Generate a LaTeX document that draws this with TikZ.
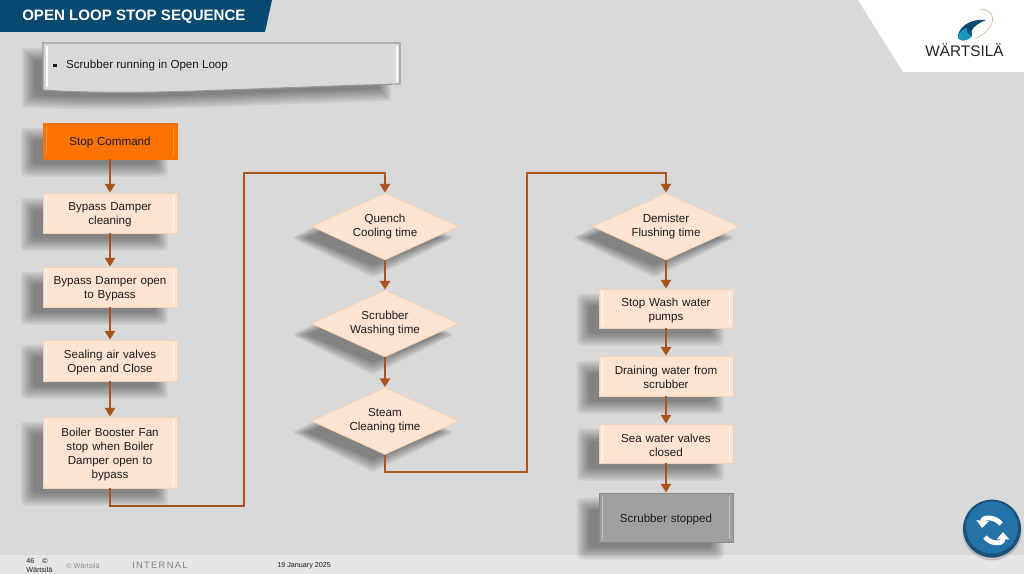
\documentclass[tikz,border=0pt]{standalone}
\usepackage{fontspec}
\setmainfont{Liberation Sans}
\usetikzlibrary{shapes.geometric,arrows.meta}
\pgfdeclarelayer{back}
\pgfdeclarelayer{shade}
\pgfsetlayers{back,shade,main}
\definecolor{bgc}{HTML}{D9D9D9}
\definecolor{footc}{HTML}{E6E6E6}
\definecolor{bannerc}{HTML}{0B4A70}
\definecolor{peach}{HTML}{FFE5D1}
\definecolor{peachedge}{HTML}{F3D3B4}
\definecolor{orangec}{HTML}{FC7303}
\definecolor{greyc}{HTML}{A0A0A0}
\definecolor{wire}{HTML}{A9541C}
\definecolor{inkc}{HTML}{1A1A1A}
\definecolor{btn}{HTML}{2472A8}
\definecolor{btnedge}{HTML}{1B527C}
\newcommand\blurlevels{-4.5,-3,-1.5,0,1.5,3,4.5}
\newcommand\boxshade[1]{\begin{pgfonlayer}{shade}\foreach \g in \blurlevels {
  \fill[shadelayer,rounded corners=3pt]
    ([xshift=\g pt-11.8pt,yshift=-\g pt-8.4pt]#1.north west) rectangle ([xshift=-\g pt-11.8pt,yshift=\g pt-8.4pt]#1.south east);}
  \end{pgfonlayer}}
\newcommand\diashade[1]{\begin{pgfonlayer}{shade}\foreach \g in \blurlevels {
  \fill[shadelayer,rounded corners=2pt]
    ([xshift=-9pt,yshift=-\g pt-8.4pt]#1.north) -- ([xshift=-1.2*\g pt-9pt,yshift=-8.4pt]#1.east)
    -- ([xshift=-9pt,yshift=\g pt-8.4pt]#1.south) -- ([xshift=1.2*\g pt-9pt,yshift=-8.4pt]#1.west) -- cycle;}
  \end{pgfonlayer}}
\tikzset{
  shadelayer/.style={black,opacity=.068},
  bevel/.style={path picture={
    \draw[#1,line width=1pt]
      ([xshift=2.6pt,yshift=-2pt]path picture bounding box.north west) -- ([xshift=2.6pt,yshift=2pt]path picture bounding box.south west)
      ([xshift=-2.6pt,yshift=-2pt]path picture bounding box.north east) -- ([xshift=-2.6pt,yshift=2pt]path picture bounding box.south east);}},
  flowtext/.style={text=inkc,font=\fontsize{8.7}{10.5}\selectfont,execute at begin node={\rule{0pt}{9.0pt}}},
  flowbox/.style={rectangle,draw=peachedge,fill=peach,line width=.6pt,minimum width=134*.75pt,text width=122*.75pt,align=center,
    inner sep=0pt,flowtext,bevel=white!80!peach},
  startbox/.style={flowbox,fill=orangec,draw=orangec,bevel=orangec!80!white},
  endbox/.style={flowbox,fill=greyc,draw=greyc!85!black,bevel=greyc!60!white},
  flowdia/.style={diamond,aspect=2.2,draw=peachedge,fill=peach,line width=.6pt,minimum width=147*.75pt,minimum height=67*.75pt,
    align=center,inner sep=0pt,flowtext,execute at begin node={\rule{0pt}{12pt}}},
  link/.style={draw=wire,line width=2.1pt},
  arrowlink/.style={link,-{Triangle[length=6.5pt,width=7.5pt]}},
  foot/.style={inner sep=0pt,anchor=west,text=inkc,font=\fontsize{5.4}{6.6}\selectfont},
  syncarrow/.style={draw=white,line width=3.6pt,-{Triangle[length=5.5pt,width=9pt]}},
}
\begin{document}
\begin{tikzpicture}[x=.75pt,y=-.75pt]
\useasboundingbox (0,0) rectangle (1024,574);
\begin{pgfonlayer}{back}
\fill[bgc] (0,0) rectangle (1024,574);
\fill[footc] (0,555) rectangle (1024,574);
\end{pgfonlayer}
% banner and logo panel
\fill[bannerc] (0,0) -- (272,0) -- (265,32) -- (0,32) -- cycle;
\node[anchor=west,inner sep=0pt,text=white,font=\fontsize{11.3}{13}\selectfont\bfseries] (title) at (22,16.5) {OPEN LOOP STOP SEQUENCE};
\fill[white] (858,0) -- (1024,0) -- (1024,72) -- (903,72) -- cycle;
% logo
\draw[brown!60!white,line width=.5pt] (980,9) .. controls (993,9) and (995,20) .. (990,27) .. controls (986,32) and (982,36) .. (976,38);
\fill[bannerc] (958,38) .. controls (957,28) and (970,18) .. (986,20) .. controls (976,24) and (969,30) .. (972,36) .. controls (968,41) and (960,42) .. (958,38) -- cycle;
\fill[btn!75!cyan] (958,38) .. controls (958,33) and (962,29) .. (967,28) .. controls (966,32) and (968,34) .. (972,36) .. controls (968,41) and (960,42) .. (958,38) -- cycle;
\node[inner sep=0pt,text=black!85,font=\fontsize{11.5}{13}\selectfont] (logo) at (964.5,50) {WÄRTSILÄ};
% note box
\begin{pgfonlayer}{shade}
\foreach \g in {-6,-4,-2,0,2,4,6} {
  \fill[shadelayer] ({28+\g},{54+\g}) -- ({385-\g},{54+\g}) -- ({385-\g},{95-\g})
    .. controls (305,{97-\g}) and (225,{101-\g}) .. (145,{103-\g}) .. controls (95,{104-\g}) and (55,{103-\g}) .. ({28+\g},{101-\g}) -- cycle;}
\end{pgfonlayer}
\path[draw=black!40,line width=.8pt,fill=bgc] (43,43) -- (400,43) -- (400,84) .. controls (320,86) and (240,90) .. (160,92) .. controls (110,93) and (70,92) .. (43,90) -- cycle;
\draw[white,line width=1pt] (47,46) -- (47,87) (397,46) -- (397,82);
\node[anchor=west,inner sep=0pt,text=inkc,font=\fontsize{8.7}{11}\selectfont] (note) at (53,66) {\rule[1.2pt]{2.6pt}{2.6pt}\hspace{7pt}Scrubber running in Open Loop};
% first column
\node[startbox,minimum height=36*.75pt] (stop) at (110,141) {Stop Command};
\node[flowbox,minimum height=40*.75pt] (clean) at (110,213) {Bypass Damper\\cleaning};
\node[flowbox,minimum height=40*.75pt] (open) at (110,287) {Bypass Damper open\\to Bypass};
\node[flowbox,minimum height=41*.75pt] (seal) at (110,360.5) {Sealing air valves\\Open and Close};
\node[flowbox,minimum height=71*.75pt] (fan) at (110,452.5) {Boiler Booster Fan\\stop when Boiler\\Damper open to\\bypass};
% second column
\node[flowdia] (quench) at (385,226.5) {Quench\\Cooling time};
\node[flowdia] (wash) at (385,323.5) {Scrubber\\Washing time};
\node[flowdia] (steam) at (385,421) {Steam\\Cleaning time};
% third column
\node[flowdia] (demist) at (666,226.5) {Demister\\Flushing time};
\node[flowbox,minimum height=39*.75pt] (pumps) at (666,308.5) {Stop Wash water\\pumps};
\node[flowbox,minimum height=40*.75pt] (drain) at (666,376) {Draining water from\\scrubber};
\node[flowbox,minimum height=39*.75pt] (sea) at (666,443.5) {Sea water valves\\closed};
\node[endbox,minimum height=49*.75pt] (end) at (666,517.5) {Scrubber stopped};
% soft shadows
\boxshade{stop}\boxshade{clean}\boxshade{open}\boxshade{seal}\boxshade{fan}
\boxshade{pumps}\boxshade{drain}\boxshade{sea}\boxshade{end}
\diashade{quench}\diashade{wash}\diashade{steam}\diashade{demist}
% connectors
\draw[arrowlink] (stop) -- (clean);
\draw[arrowlink] (clean) -- (open);
\draw[arrowlink] (open) -- (seal);
\draw[arrowlink] (seal) -- (fan);
\coordinate (c1) at (244,506);
\coordinate (c2) at (244,173);
\coordinate (c3) at (527,472);
\coordinate (c4) at (527,173);
\draw[arrowlink,line join=miter] (fan.south) |- (c1) -- (c2) -| (quench.north);
\draw[arrowlink] (quench) -- (wash);
\draw[arrowlink] (wash) -- (steam);
\draw[arrowlink,line join=miter] (steam.south) |- (c3) -- (c4) -| (demist.north);
\draw[arrowlink] (demist) -- (pumps);
\draw[arrowlink] (pumps) -- (drain);
\draw[arrowlink] (drain) -- (sea);
\draw[arrowlink] (sea) -- (end);
% footer
\node[foot] (pg) at (26,561) {46\hspace{6pt}©};
\node[foot] (wa) at (26,570) {Wärtsilä};
\node[foot,text=black!45] (cp) at (66,565.5) {© Wärtsilä};
\node[foot,text=black!50,font=\fontsize{7}{8}\selectfont\addfontfeatures{LetterSpace=14}] (int) at (132,565.5) {INTERNAL};
\node[foot] (date) at (277,565.5) {19 January 2025};
% button
\fill[black,opacity=.15] (992,531) circle (29.5);
\fill[btnedge] (992,528.6) circle (29);
\fill[btn] (992,527.5) circle (26);
\draw[syncarrow] (1001,524) .. controls (996,517) and (983,516) .. (982,528);
\draw[syncarrow] (985,537) .. controls (990,544) and (1003,545) .. (1003,532);
\end{tikzpicture}
\end{document}
